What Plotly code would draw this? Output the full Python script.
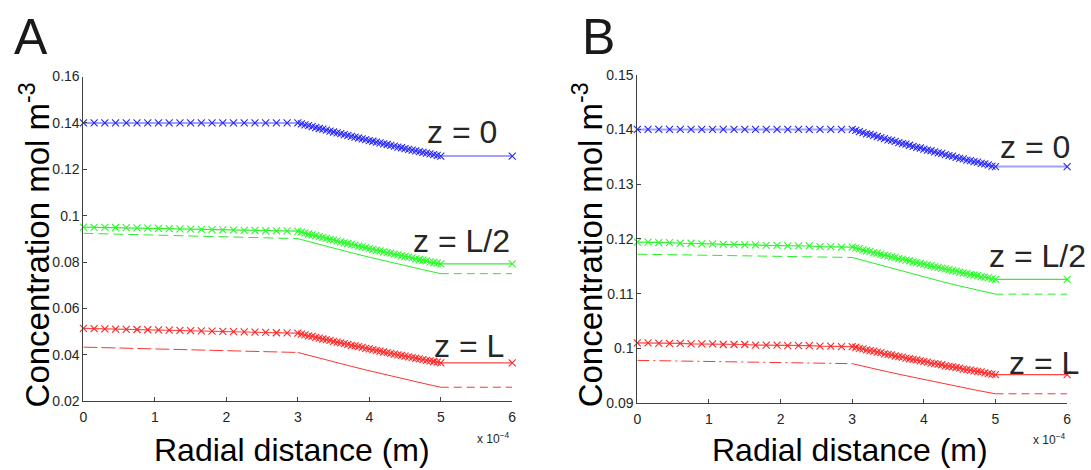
import plotly.graph_objects as go

W, H = 1091, 470

# Radial mesh nodes (units of 1e-4 m): core region, shell region, outer boundary
r_core = [0.00, 0.15, 0.30, 0.45, 0.60, 0.75, 0.90, 1.05, 1.20, 1.35, 1.50,
          1.65, 1.80, 1.95, 2.10, 2.25, 2.40, 2.55, 2.70, 2.85, 3.00]
r_shell = [3.05, 3.10, 3.15, 3.20, 3.25, 3.30, 3.35, 3.40, 3.45, 3.50,
           3.55, 3.60, 3.65, 3.70, 3.75, 3.80, 3.85, 3.90, 3.95, 4.00,
           4.05, 4.10, 4.15, 4.20, 4.25, 4.30, 4.35, 4.40, 4.45, 4.50,
           4.55, 4.60, 4.65, 4.70, 4.75, 4.80, 4.85, 4.90, 4.95, 5.00]
r_end = [6.00]

# Coarse nodes for the second (comparison) profiles
r_cmp_core = [0.0, 1.5, 3.0]
r_cmp_shell = [3.0, 3.25, 3.5, 3.75, 4.0, 4.25, 4.5, 4.75, 5.0]
r_cmp_end = [5.0, 6.0]

# ---- Panel A concentrations (mol m^-3) ----
a_z0_core = [0.1400] * 21
a_z0_shell = [0.1396, 0.1392, 0.1388, 0.1384, 0.1380, 0.1376, 0.1373, 0.1369, 0.1365, 0.1361,
              0.1357, 0.1354, 0.1350, 0.1346, 0.1342, 0.1339, 0.1335, 0.1331, 0.1328, 0.1324,
              0.1321, 0.1317, 0.1314, 0.1310, 0.1307, 0.1303, 0.1300, 0.1296, 0.1293, 0.1289,
              0.1286, 0.1283, 0.1280, 0.1276, 0.1273, 0.1270, 0.1267, 0.1263, 0.1260, 0.1257]
a_z0_end = [0.1257]

a_zh_core = [0.0951, 0.0950, 0.0950, 0.0949, 0.0948, 0.0947, 0.0946, 0.0945, 0.0944, 0.0943, 0.0942,
             0.0941, 0.0940, 0.0939, 0.0938, 0.0937, 0.0936, 0.0935, 0.0934, 0.0934, 0.0933]
a_zh_shell = [0.0929, 0.0925, 0.0921, 0.0917, 0.0914, 0.0910, 0.0906, 0.0902, 0.0898, 0.0895,
              0.0891, 0.0887, 0.0883, 0.0880, 0.0876, 0.0873, 0.0869, 0.0865, 0.0862, 0.0858,
              0.0855, 0.0851, 0.0848, 0.0844, 0.0841, 0.0838, 0.0834, 0.0831, 0.0827, 0.0824,
              0.0821, 0.0818, 0.0814, 0.0811, 0.0808, 0.0805, 0.0801, 0.0798, 0.0795, 0.0792]
a_zh_end = [0.0792]

a_zl_core = [0.0514, 0.0513, 0.0512, 0.0511, 0.0510, 0.0509, 0.0508, 0.0507, 0.0506, 0.0505, 0.0504,
             0.0503, 0.0502, 0.0501, 0.0500, 0.0499, 0.0498, 0.0497, 0.0495, 0.0494, 0.0493]
a_zl_shell = [0.0489, 0.0486, 0.0482, 0.0479, 0.0475, 0.0472, 0.0468, 0.0465, 0.0462, 0.0458,
              0.0455, 0.0451, 0.0448, 0.0445, 0.0441, 0.0438, 0.0435, 0.0432, 0.0428, 0.0425,
              0.0422, 0.0419, 0.0416, 0.0412, 0.0409, 0.0406, 0.0403, 0.0400, 0.0397, 0.0394,
              0.0391, 0.0388, 0.0385, 0.0382, 0.0379, 0.0376, 0.0374, 0.0371, 0.0368, 0.0365]
a_zl_end = [0.0365]

a_zh_cmp_core = [0.0924, 0.0913, 0.0901]
a_zh_cmp_shell = [0.0901, 0.0880, 0.0860, 0.0840, 0.0821, 0.0802, 0.0784, 0.0767, 0.0750]
a_zh_cmp_end = [0.0750, 0.0750]

a_zl_cmp_core = [0.0433, 0.0422, 0.0410]
a_zl_cmp_shell = [0.0410, 0.0389, 0.0369, 0.0350, 0.0331, 0.0312, 0.0294, 0.0277, 0.0260]
a_zl_cmp_end = [0.0260, 0.0260]

# ---- Panel B concentrations (mol m^-3) ----
b_z0_core = [0.1400] * 21
b_z0_shell = [0.1398, 0.1396, 0.1394, 0.1392, 0.1391, 0.1389, 0.1387, 0.1385, 0.1383, 0.1381,
              0.1380, 0.1378, 0.1376, 0.1374, 0.1373, 0.1371, 0.1369, 0.1367, 0.1366, 0.1364,
              0.1362, 0.1361, 0.1359, 0.1357, 0.1356, 0.1354, 0.1352, 0.1351, 0.1349, 0.1347,
              0.1346, 0.1344, 0.1343, 0.1341, 0.1340, 0.1338, 0.1337, 0.1335, 0.1333, 0.1332]
b_z0_end = [0.1332]

b_zh_core = [0.1194, 0.1194, 0.1193, 0.1193, 0.1192, 0.1192, 0.1191, 0.1191, 0.1190, 0.1190, 0.1189,
             0.1189, 0.1188, 0.1188, 0.1187, 0.1187, 0.1187, 0.1186, 0.1186, 0.1185, 0.1185]
b_zh_shell = [0.1183, 0.1182, 0.1180, 0.1178, 0.1177, 0.1175, 0.1174, 0.1172, 0.1170, 0.1169,
              0.1167, 0.1166, 0.1164, 0.1163, 0.1161, 0.1160, 0.1158, 0.1157, 0.1155, 0.1154,
              0.1152, 0.1151, 0.1149, 0.1148, 0.1146, 0.1145, 0.1144, 0.1142, 0.1141, 0.1139,
              0.1138, 0.1137, 0.1135, 0.1134, 0.1133, 0.1131, 0.1130, 0.1129, 0.1127, 0.1126]
b_zh_end = [0.1126]

b_zl_core = [0.1010, 0.1010, 0.1009, 0.1009, 0.1009, 0.1008, 0.1008, 0.1008, 0.1007, 0.1007, 0.1007,
             0.1006, 0.1006, 0.1006, 0.1005, 0.1005, 0.1005, 0.1004, 0.1004, 0.1003, 0.1003]
b_zl_shell = [0.1002, 0.1000, 0.0999, 0.0997, 0.0996, 0.0995, 0.0993, 0.0992, 0.0990, 0.0989,
              0.0988, 0.0986, 0.0985, 0.0984, 0.0982, 0.0981, 0.0980, 0.0979, 0.0977, 0.0976,
              0.0975, 0.0973, 0.0972, 0.0971, 0.0970, 0.0968, 0.0967, 0.0966, 0.0965, 0.0964,
              0.0962, 0.0961, 0.0960, 0.0959, 0.0958, 0.0957, 0.0955, 0.0954, 0.0953, 0.0952]
b_zl_end = [0.0952]

b_zh_cmp_core = [0.1172, 0.1169, 0.1166]
b_zh_cmp_shell = [0.1166, 0.1157, 0.1148, 0.1139, 0.1131, 0.1122, 0.1114, 0.1107, 0.1099]
b_zh_cmp_end = [0.1099, 0.1099]

b_zl_cmp_core = [0.0978, 0.0975, 0.0972]
b_zl_cmp_shell = [0.0972, 0.0964, 0.0957, 0.0950, 0.0943, 0.0936, 0.0929, 0.0923, 0.0917]
b_zl_cmp_end = [0.0917, 0.0917]

x_ticks = [0, 1, 2, 3, 4, 5, 6]
a_y_ticks = [0.02, 0.04, 0.06, 0.08, 0.10, 0.12, 0.14, 0.16]
a_y_text = ["0.02", "0.04", "0.06", "0.08", "0.1", "0.12", "0.14", "0.16"]
b_y_ticks = [0.09, 0.10, 0.11, 0.12, 0.13, 0.14, 0.15]
b_y_text = ["0.09", "0.1", "0.11", "0.12", "0.13", "0.14", "0.15"]

BLUE = "#0000ff"
GREEN = "#00ff00"
RED = "#ff0000"
FONT = "Liberation Sans, Arial, sans-serif"

fig = go.Figure()


def marked(xa, ya, core, shell, end, color, line_rgba, lw):
    # shell nodes are dense, so their crosses merge into a thick band
    xs = r_core + r_shell + r_end
    ys = core + shell + end
    fig.add_trace(go.Scatter(
        x=xs, y=ys, xaxis=xa, yaxis=ya, mode="lines+markers", cliponaxis=False,
        line=dict(color=line_rgba, width=lw),
        marker=dict(symbol="x-thin", size=7, color=color,
                    line=dict(color=color, width=1.1)),
        opacity=0.85, showlegend=False, hoverinfo="skip"))


def compare(xa, ya, core, shell, end, line_rgba, core_dash):
    for xs, ys, dash in ((r_cmp_core, core, core_dash),
                         (r_cmp_shell, shell, "solid"),
                         (r_cmp_end, end, "8px,5px")):
        fig.add_trace(go.Scatter(
            x=xs, y=ys, xaxis=xa, yaxis=ya, mode="lines", cliponaxis=False,
            line=dict(color=line_rgba, width=1, dash=dash),
            showlegend=False, hoverinfo="skip"))


# Panel A
compare("x", "y", a_zh_cmp_core, a_zh_cmp_shell, a_zh_cmp_end, "rgba(0,235,0,0.85)", "10px,5px")
compare("x", "y", a_zl_cmp_core, a_zl_cmp_shell, a_zl_cmp_end, "rgba(255,0,0,0.8)", "14px,4px")
marked("x", "y", a_z0_core, a_z0_shell, a_z0_end, BLUE, "rgba(70,70,255,0.6)", 2)
marked("x", "y", a_zh_core, a_zh_shell, a_zh_end, GREEN, "rgba(0,230,0,0.9)", 1.2)
marked("x", "y", a_zl_core, a_zl_shell, a_zl_end, RED, "rgba(255,0,0,0.85)", 1.2)

# Panel B
compare("x2", "y2", b_zh_cmp_core, b_zh_cmp_shell, b_zh_cmp_end, "rgba(0,235,0,0.85)", "10px,5px")
compare("x2", "y2", b_zl_cmp_core, b_zl_cmp_shell, b_zl_cmp_end, "rgba(255,0,0,0.8)", "12px,4px,2px,4px")
marked("x2", "y2", b_z0_core, b_z0_shell, b_z0_end, BLUE, "rgba(70,70,255,0.6)", 2)
marked("x2", "y2", b_zh_core, b_zh_shell, b_zh_end, GREEN, "rgba(0,230,0,0.9)", 1.2)
marked("x2", "y2", b_zl_core, b_zl_shell, b_zl_end, RED, "rgba(255,0,0,0.85)", 1.2)


def px(x):
    return x / W


def py(y):
    return 1 - y / H


axis_common = dict(showgrid=False, zeroline=False, showline=True, linecolor="#404040",
                   linewidth=1, ticks="inside", ticklen=4, tickcolor="#404040",
                   tickfont=dict(family=FONT, size=14, color="#262626"), mirror=False)

fig.update_layout(
    width=W, height=H, margin=dict(l=0, r=0, t=0, b=0),
    paper_bgcolor="white", plot_bgcolor="white", showlegend=False,
    xaxis=dict(domain=[px(80), px(512)], range=[0, 6], tickvals=x_ticks,
               anchor="y", ticklabelstandoff=3, **axis_common),
    yaxis=dict(domain=[py(407), py(71)], range=[0.02, 0.16], tickvals=a_y_ticks,
               ticktext=a_y_text, anchor="x", **axis_common),
    xaxis2=dict(domain=[px(638), px(1071)], range=[0, 6], tickvals=x_ticks,
                anchor="y2", ticklabelstandoff=3, **axis_common),
    yaxis2=dict(domain=[py(409), py(69)], range=[0.09, 0.15], tickvals=b_y_ticks,
                ticktext=b_y_text, anchor="x2", **axis_common),
)

ann = []


def text(x, y, s, size, color="#000000", xanchor="center", angle=0):
    ann.append(dict(x=px(x), y=py(y), xref="paper", yref="paper", text=s, showarrow=False,
                    xanchor=xanchor, yanchor="middle", textangle=angle,
                    font=dict(family=FONT, size=size, color=color)))


# Panel letters
text(8, 30, "A", 50, "#1a1a1a", "left")
text(580, 30, "B", 50, "#1a1a1a", "left")

# Axis titles
for cx in (290, 852):
    text(cx, 458, "Radial distance (m)", 32)
for cx in (31, 588):
    text(cx, 245, "Concentration mol m<sup>-3</sup>", 33, angle=-90)

# Exponent of the radial axis
text(512, 445, "x 10<sup>−4</sup>", 12, "#262626", "right")
text(1072, 446, "x 10<sup>−4</sup>", 12, "#262626", "right")

# Profile labels
for (cx, cy, s) in ((461, 128, "z = 0"), (461, 241, "z = L/2"), (468, 350, "z = L"),
                    (1039, 144, "z = 0"), (1041, 257, "z = L/2"), (1048, 367, "z = L")):
    text(cx, cy, s, 32, "#262626")

fig.update_layout(annotations=ann)
fig.write_html("out.html")
